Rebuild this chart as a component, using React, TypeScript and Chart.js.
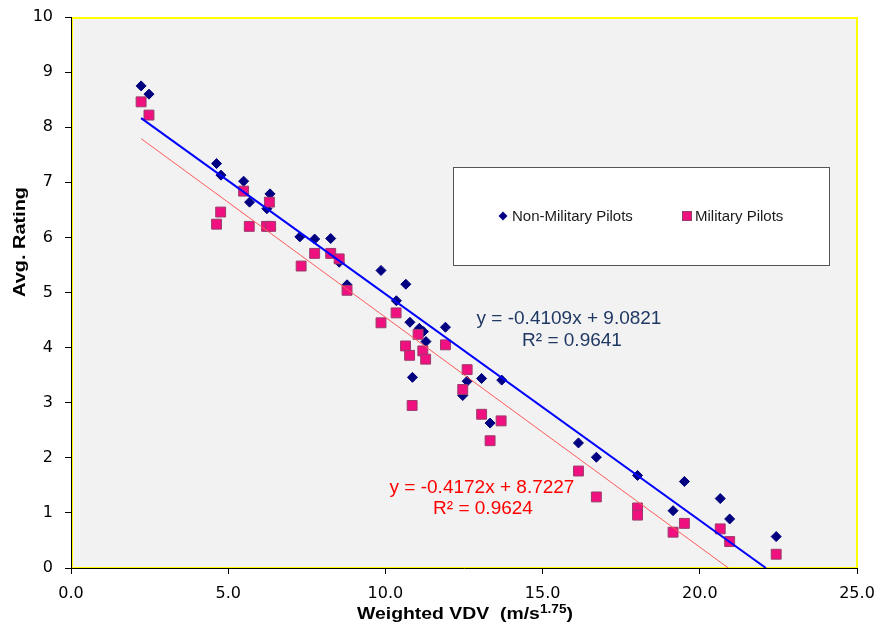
import React, { useEffect, useRef } from "react";
import { Chart, registerables } from "chart.js";

Chart.register(...registerables);

// ---- Data ----
const seriesLabels = ["Non-Military Pilots", "Military Pilots"];

const nonMilX = [2.23, 2.48, 4.63, 4.77, 5.49, 5.68, 6.33, 6.23, 7.28, 7.75, 8.26, 8.53, 8.78, 9.86, 10.65, 10.35, 10.78, 11.08, 11.21, 11.29, 11.91, 10.86, 12.6, 13.06, 13.7, 12.46, 13.33, 16.14, 16.71, 18.02, 19.51, 19.15, 20.65, 20.95, 22.43];
const nonMilY = [8.75, 8.6, 7.34, 7.13, 7.02, 6.64, 6.79, 6.52, 6.01, 5.97, 5.98, 5.55, 5.14, 5.4, 5.15, 4.85, 4.46, 4.35, 4.29, 4.11, 4.37, 3.46, 3.39, 3.44, 3.41, 3.13, 2.63, 2.27, 2.01, 1.68, 1.57, 1.04, 1.26, 0.89, 0.57];

const milX = [2.23, 2.48, 4.76, 4.63, 5.49, 5.67, 6.31, 6.22, 6.35, 7.32, 7.75, 8.26, 8.53, 8.78, 9.86, 10.34, 11.04, 10.64, 10.77, 11.19, 11.28, 11.91, 12.6, 12.46, 10.85, 13.06, 13.68, 13.33, 16.14, 16.71, 18.02, 18.02, 19.15, 19.51, 20.65, 20.95, 22.43];
const milY = [8.46, 8.22, 6.46, 6.24, 6.84, 6.2, 6.64, 6.2, 6.2, 5.48, 5.71, 5.71, 5.61, 5.04, 4.45, 4.63, 4.24, 4.03, 3.86, 3.94, 3.79, 4.05, 3.6, 3.24, 2.95, 2.79, 2.67, 2.31, 1.76, 1.29, 1.09, 0.96, 0.65, 0.81, 0.71, 0.48, 0.25];

// Linear trendline coefficients shown on the chart
const nonMilFit = { slope: -0.4109, intercept: 9.0821, r2: 0.9641 };
const milFit = { slope: -0.4172, intercept: 8.7227, r2: 0.9624 };

const xTickValues = [0, 5, 10, 15, 20, 25];
const yTickValues = [0, 1, 2, 3, 4, 5, 6, 7, 8, 9, 10];

const xTitle = "Weighted VDV";
const xUnitBase = "(m/s";
const xUnitSup = "1.75";
const yTitle = "Avg. Rating";

// ---- Styles ----
const NAVY = "#000080";
const PINK = "#F0107F";
const PINK_BORDER = "#9A3C6A";
const BLUE_LINE = "#0000FF";
const RED_LINE = "#FF5A5A";
const EQ_BLUE = "#1F3864";
const EQ_RED = "#FF0000";
const SANS = '"Liberation Sans", Arial, sans-serif';
const TICK_FONT = '"DejaVu Sans", sans-serif';

function toPoints(xs: number[], ys: number[]) {
  return xs.map((x, i) => ({ x, y: ys[i] }));
}

function trendPoints(xs: number[], fit: { slope: number; intercept: number }) {
  const x0 = Math.min(...xs);
  const x1 = -fit.intercept / fit.slope;
  return [
    { x: x0, y: fit.slope * x0 + fit.intercept },
    { x: x1, y: fit.slope * x1 + fit.intercept },
  ];
}

function eqText(fit: { slope: number; intercept: number }) {
  return `y = ${fit.slope.toFixed(4)}x + ${fit.intercept.toFixed(4)}`;
}

const decorPlugin = {
  id: "decor",
  beforeDraw(chart: any) {
    const { ctx, chartArea: a } = chart;
    ctx.save();
    ctx.fillStyle = "#F2F2F2";
    ctx.fillRect(a.left, a.top, a.right - a.left, a.bottom - a.top);
    ctx.strokeStyle = "#FFFF00";
    ctx.lineWidth = 2;
    ctx.strokeRect(a.left + 1, a.top + 1, a.right - a.left - 1, a.bottom - a.top - 1);
    ctx.restore();
  },
  afterDraw(chart: any) {
    const { ctx } = chart;
    const ds = chart.data.datasets;

    // Legend box
    ctx.save();
    ctx.fillStyle = "#FFFFFF";
    ctx.fillRect(453, 167, 376, 98);
    ctx.strokeStyle = "#555555";
    ctx.lineWidth = 1;
    ctx.strokeRect(453.5, 167.5, 376, 98);

    const ly = 216;
    ctx.fillStyle = ds[2].backgroundColor;
    ctx.beginPath();
    ctx.moveTo(503 - 4.5, ly);
    ctx.lineTo(503, ly - 4.5);
    ctx.lineTo(503 + 4.5, ly);
    ctx.lineTo(503, ly + 4.5);
    ctx.closePath();
    ctx.fill();
    ctx.fillStyle = ds[3].backgroundColor;
    ctx.strokeStyle = ds[3].borderColor;
    ctx.fillRect(682.5, ly - 4.5, 9, 9);
    ctx.strokeRect(682.5, ly - 4.5, 9, 9);

    ctx.fillStyle = "#1A1A1A";
    ctx.font = `15px ${SANS}`;
    ctx.textAlign = "left";
    ctx.textBaseline = "middle";
    ctx.fillText(ds[2].label, 512, ly + 1);
    ctx.fillText(ds[3].label, 695, ly + 1);

    // Equations
    ctx.font = `19px ${SANS}`;
    ctx.textAlign = "center";
    ctx.textBaseline = "alphabetic";
    ctx.fillStyle = EQ_BLUE;
    ctx.fillText(eqText(nonMilFit), 569, 324);
    ctx.fillText(`R² = ${nonMilFit.r2.toFixed(4)}`, 572, 346);
    ctx.fillStyle = EQ_RED;
    ctx.fillText(eqText(milFit), 482, 493);
    ctx.fillText(`R² = ${milFit.r2.toFixed(4)}`, 483, 514);

    // X axis title with superscript
    ctx.fillStyle = "#000000";
    const mainFont = `bold 17px ${SANS}`;
    const supFont = `bold 12px ${SANS}`;
    ctx.font = mainFont;
    const partA = `${xTitle}  ${xUnitBase}`;
    const wA = ctx.measureText(partA).width;
    const wC = ctx.measureText(")").width;
    ctx.font = supFont;
    const wB = ctx.measureText(xUnitSup).width;
    const natural = wA + wB + wC;
    const target = 216;
    const sx = target / natural;
    ctx.save();
    ctx.translate(465 - target / 2, 619);
    ctx.scale(sx, 1);
    ctx.textAlign = "left";
    ctx.font = mainFont;
    ctx.fillText(partA, 0, 0);
    ctx.font = supFont;
    ctx.fillText(xUnitSup, wA, -6);
    ctx.font = mainFont;
    ctx.fillText(")", wA + wB, 0);
    ctx.restore();

    // Y axis title
    ctx.save();
    ctx.font = `bold 16px ${SANS}`;
    const wy = ctx.measureText(yTitle).width;
    ctx.translate(25, 242);
    ctx.rotate(-Math.PI / 2);
    ctx.scale(110 / wy, 1);
    ctx.textAlign = "center";
    ctx.fillText(yTitle, 0, 0);
    ctx.restore();

    ctx.restore();
  },
};

export default function App() {
  const canvasRef = useRef<HTMLCanvasElement | null>(null);

  useEffect(() => {
    const canvas = canvasRef.current;
    if (!canvas) return;
    const chart = new Chart(canvas, {
      type: "scatter",
      data: {
        datasets: [
          {
            label: "Linear (Non-Military Pilots)",
            data: trendPoints(nonMilX, nonMilFit),
            showLine: true,
            borderColor: BLUE_LINE,
            borderWidth: 2,
            pointRadius: 0,
            order: 0,
          },
          {
            label: "Linear (Military Pilots)",
            data: trendPoints(milX, milFit),
            showLine: true,
            borderColor: RED_LINE,
            borderWidth: 1,
            pointRadius: 0,
            order: 1,
          },
          {
            label: seriesLabels[0],
            data: toPoints(nonMilX, nonMilY),
            pointStyle: "rectRot",
            pointRadius: 5,
            backgroundColor: NAVY,
            borderColor: NAVY,
            borderWidth: 1,
            order: 3,
          },
          {
            label: seriesLabels[1],
            data: toPoints(milX, milY),
            pointStyle: "rect",
            pointRadius: 7,
            backgroundColor: PINK,
            borderColor: PINK_BORDER,
            borderWidth: 1,
            order: 2,
          },
        ],
      },
      options: {
        responsive: false,
        animation: false,
        layout: { padding: { top: 17, right: 26, left: 0, bottom: 0 } },
        plugins: { legend: { display: false }, tooltip: { enabled: false } },
        scales: {
          x: {
            type: "linear",
            min: 0,
            max: 25,
            afterFit: (s: any) => {
              s.height = 60;
              s.paddingLeft = 0;
              s.paddingRight = 0;
            },
            afterBuildTicks: (s: any) => {
              s.ticks = xTickValues.map((v) => ({ value: v }));
            },
            ticks: {
              color: "#000000",
              font: { family: TICK_FONT, size: 16 },
              padding: 10,
              maxRotation: 0,
              callback: (v: any) => Number(v).toFixed(1),
            },
            grid: { display: true, drawOnChartArea: false, drawTicks: true, tickLength: 6, color: "#000000" },
            border: { display: true, color: "#000000", width: 1 },
            title: { display: false },
          },
          y: {
            type: "linear",
            min: 0,
            max: 10,
            afterFit: (s: any) => {
              s.width = 71;
              s.paddingTop = 0;
              s.paddingBottom = 0;
            },
            afterBuildTicks: (s: any) => {
              s.ticks = yTickValues.map((v) => ({ value: v }));
            },
            ticks: {
              color: "#000000",
              font: { family: TICK_FONT, size: 16 },
              padding: 12,
              callback: (v: any) => String(v),
            },
            grid: { display: true, drawOnChartArea: false, drawTicks: true, tickLength: 6, color: "#000000" },
            border: { display: true, color: "#000000", width: 1 },
            title: { display: false },
          },
        },
      },
      plugins: [decorPlugin],
    });
    return () => chart.destroy();
  }, []);

  return (
    <div style={{ position: "absolute", left: 0, top: 0, width: 883, height: 628, background: "#FFFFFF" }}>
      <canvas ref={canvasRef} width={883} height={628} style={{ display: "block" }} />
    </div>
  );
}
